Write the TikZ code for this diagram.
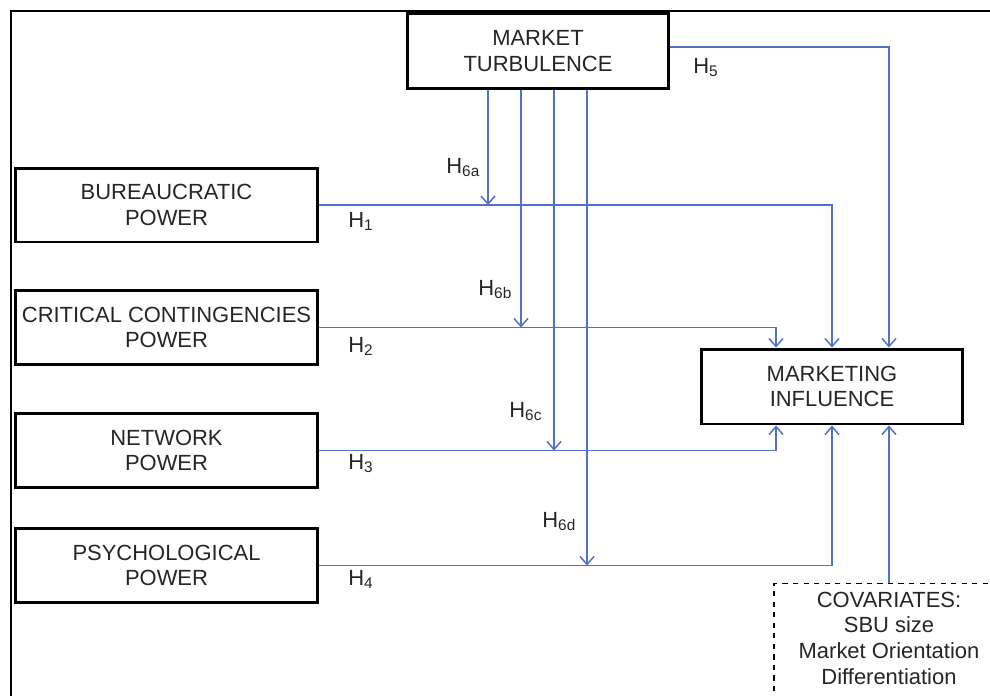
\documentclass[tikz,border=0pt]{standalone}
\usepackage{fontspec}
\setmainfont{Liberation Sans}
\usepackage{xcolor}
\usepackage{tikz}
\usetikzlibrary{positioning,arrows.meta}
\definecolor{linkblue}{RGB}{84,114,196}

\begin{document}
\begin{tikzpicture}[x=0.02cm, y=-0.02cm,
  font=\fontsize{12.5}{14.7}\selectfont,
  box/.style={draw, line width=1.7pt, fill=white, text=black!85, align=center, inner xsep=1pt},
  powerbox/.style={box, minimum width=6.06cm, minimum height=1.48cm},
  keybox/.style={box, minimum width=5.24cm, minimum height=1.5cm},
  covbox/.style={draw, dashed, line width=0.7pt, text=black!85, align=center, minimum width=4.6cm, inner ysep=4.6pt, text depth=14pt},
  link/.style={draw=linkblue, line width=0.85pt},
  arr/.style={link, -{Straight Barb[length=4.5pt, width=8pt]}},
  hlab/.style={anchor=base west, text=black!85, inner sep=0pt}]

\useasboundingbox (0,0) rectangle (990,696);

% frame %
\draw[line width=1.7pt] (11,696) -- (11,11) -- (990,11);

% nodes %
\node[keybox] (turb) at (538,51) {MARKET\\TURBULENCE};
\node[powerbox] (bur) at (166.5,205) {BUREAUCRATIC\\POWER};
\node[powerbox] (crit) at (166.5,327.5) {CRITICAL CONTINGENCIES\\POWER};
\node[powerbox] (net) at (166.5,450.5) {NETWORK\\POWER};
\node[powerbox] (psy) at (166.5,565.5) {PSYCHOLOGICAL\\POWER};
\node[keybox] (mi) at (832,386.5) {MARKETING\\INFLUENCE};
\node[covbox, anchor=north] (cov) at (889,583) {COVARIATES:\\SBU size\\Market Orientation\\Differentiation};

% entry points on marketing influence %
\coordinate (mitl) at ([xshift=-1.12cm]mi.north);
\coordinate (mitr) at ([xshift=1.14cm]mi.north);
\coordinate (mibl) at ([xshift=-1.12cm]mi.south);
\coordinate (mibr) at ([xshift=1.14cm]mi.south);

% moderation points %
\coordinate (m6a) at (488,0 |- bur.east);
\coordinate (m6b) at (521,0 |- crit.east);
\coordinate (m6c) at (554,0 |- net.east);
\coordinate (m6d) at (587,0 |- psy.east);

% edges %

%H1-H4%
\draw[arr] (bur.east) -| (mi.north);
\draw[arr] (crit.east) -| (mitl);
\draw[arr] (net.east) -| (mibl);
\draw[arr] (psy.east) -| (mi.south);

%H5%
\draw[arr] ([yshift=2.3pt]turb.east) -| (mitr);

%H6%
\draw[arr] (turb.south -| m6a) -- (m6a);
\draw[arr] (turb.south -| m6b) -- (m6b);
\draw[arr] (turb.south -| m6c) -- (m6c);
\draw[arr] (turb.south -| m6d) -- (m6d);

%covariates%
\draw[arr] (cov.north -| mibr) -- (mibr);

% labels %
\node[hlab] (h1) at (348,227) {H\textsubscript{1}};
\node[hlab] (h2) at (348,352) {H\textsubscript{2}};
\node[hlab] (h3) at (348,469) {H\textsubscript{3}};
\node[hlab] (h4) at (348,585) {H\textsubscript{4}};
\node[hlab] (h5) at (693,73) {H\textsubscript{5}};
\node[hlab] (h6a) at (446,173) {H\textsubscript{6a}};
\node[hlab] (h6b) at (478,295) {H\textsubscript{6b}};
\node[hlab] (h6c) at (509,417) {H\textsubscript{6c}};
\node[hlab] (h6d) at (542,527) {H\textsubscript{6d}};

\end{tikzpicture}
\end{document}
